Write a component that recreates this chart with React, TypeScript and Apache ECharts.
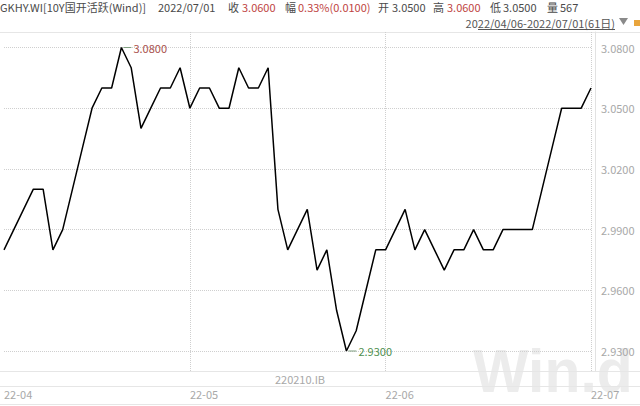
import React, { useEffect, useRef } from "react";
import * as echarts from "echarts";

const dates = [
  "2022-04-06", "2022-04-07", "2022-04-08", "2022-04-11", "2022-04-12", "2022-04-13", "2022-04-14", "2022-04-15",
  "2022-04-18", "2022-04-19", "2022-04-20", "2022-04-21", "2022-04-22", "2022-04-24", "2022-04-25", "2022-04-26",
  "2022-04-27", "2022-04-28", "2022-04-29",
  "2022-05-05", "2022-05-06", "2022-05-07", "2022-05-09", "2022-05-10", "2022-05-11", "2022-05-12", "2022-05-13",
  "2022-05-16", "2022-05-17", "2022-05-18", "2022-05-19", "2022-05-20", "2022-05-23", "2022-05-24", "2022-05-25",
  "2022-05-26", "2022-05-27", "2022-05-30", "2022-05-31",
  "2022-06-01", "2022-06-02", "2022-06-06", "2022-06-07", "2022-06-08", "2022-06-09", "2022-06-10", "2022-06-13",
  "2022-06-14", "2022-06-15", "2022-06-16", "2022-06-17", "2022-06-20", "2022-06-21", "2022-06-22", "2022-06-23",
  "2022-06-24", "2022-06-27", "2022-06-28", "2022-06-29", "2022-06-30",
  "2022-07-01",
];

const closeValues = [
  2.98, 2.99, 3.0, 3.01, 3.01, 2.98, 2.99, 3.01, 3.03, 3.05,
  3.06, 3.06, 3.08, 3.07, 3.04, 3.05, 3.06, 3.06, 3.07,
  3.05, 3.06, 3.06, 3.05, 3.05, 3.07, 3.06, 3.06, 3.07, 3.0,
  2.98, 2.99, 3.0, 2.97, 2.98, 2.95, 2.93, 2.94, 2.96, 2.98,
  2.98, 2.99, 3.0, 2.98, 2.99, 2.98, 2.97, 2.98, 2.98, 2.99,
  2.98, 2.98, 2.99, 2.99, 2.99, 2.99, 3.01, 3.03, 3.05, 3.05, 3.05,
  3.06,
];

const yMin = 2.93;
const yMax = 3.08;
const yStep = 0.03;

const codeTitle = "GKHY.WI[10Y国开活跃(Wind)]";
const quoteDate = "2022/07/01";
const closeText = "3.0600";
const changeText = "0.33%(0.0100)";
const openText = "3.0500";
const highText = "3.0600";
const lowText = "3.0500";
const volumeText = "567";
const rangeText = "2022/04/06-2022/07/01(61日)";
const bondCode = "220210.IB";

const FONT = "'Noto Sans CJK SC', 'Microsoft YaHei', sans-serif";
const GRAY = "#4a4a4a";
const RED = "#c0453f";
const LIGHT = "#a8a8a8";

const monthStarts = dates
  .map((d, i) => (i === 0 || d.slice(0, 7) !== dates[i - 1].slice(0, 7) ? i : -1))
  .filter((i) => i >= 0);

function txt(x: number, y: number, text: string, fill: string, size = 11, align = "left") {
  return {
    type: "text",
    x,
    y,
    style: {
      text,
      fill,
      font: `${size}px ${FONT}`,
      textAlign: align,
      textVerticalAlign: "middle",
    },
  };
}

export default function App() {
  const ref = useRef<HTMLDivElement>(null);
  useEffect(() => {
    if (!ref.current) return;
    const chart = echarts.init(ref.current, null, { renderer: "svg" });
    const option: any = {
      animation: false,
      backgroundColor: "#ffffff",
      grid: [
        { left: 4, right: 49, top: 47.5, bottom: 55 },
        { left: 4, right: 49, top: 32, bottom: 35 },
      ],
      xAxis: [
        {
          gridIndex: 0,
          type: "category",
          data: dates,
          boundaryGap: false,
          axisLine: { show: false },
          axisTick: { show: false },
          axisLabel: { show: false },
          splitLine: { show: false },
        },
        {
          gridIndex: 1,
          type: "category",
          data: dates,
          boundaryGap: false,
          axisLine: { show: false },
          axisTick: { show: false },
          axisLabel: {
            show: true,
            interval: (i: number) => monthStarts.includes(i),
            formatter: (v: string) => v.slice(2, 7),
            align: "left",
            verticalAlign: "top",
            color: LIGHT,
            fontSize: 11,
            fontFamily: FONT,
            margin: 17,
          },
          splitLine: {
            show: true,
            interval: (i: number) => monthStarts.includes(i) && i > 0,
            lineStyle: { color: "#cfcfcf", type: "dotted", width: 1 },
          },
        },
      ],
      yAxis: [
        {
          gridIndex: 0,
          type: "value",
          position: "right",
          min: yMin,
          max: yMax,
          interval: yStep,
          offset: 4,
          axisLine: { show: false },
          axisTick: { show: false },
          axisLabel: {
            formatter: (v: number) => v.toFixed(4),
            color: LIGHT,
            fontSize: 11,
            fontFamily: FONT,
            margin: 6,
          },
          splitLine: { show: true, lineStyle: { color: "#cfcfcf", type: "dotted", width: 1 } },
        },
        {
          gridIndex: 1,
          type: "value",
          position: "right",
          offset: 4,
          axisLine: { show: true, lineStyle: { color: "#e2e2e2", width: 1 } },
          axisTick: { show: false },
          axisLabel: { show: false },
          splitLine: { show: false },
        },
      ],
      series: [
        {
          type: "line",
          xAxisIndex: 0,
          yAxisIndex: 0,
          data: closeValues,
          symbol: "none",
          lineStyle: { color: "#000000", width: 1.5 },
          markPoint: {
            silent: true,
            symbol: "rect",
            symbolSize: [8, 1],
            symbolOffset: [6, 0],
            itemStyle: { color: "#7f9f80" },
            label: {
              show: true,
              position: "right",
              distance: 2,
              fontSize: 11,
              fontFamily: FONT,
              formatter: (p: any) => Number(p.value).toFixed(4),
            },
            data: [
              { type: "max", label: { color: "#a8504c" } },
              { type: "min", label: { color: "#4f8f4f" } },
            ],
          },
        },
      ],
      graphic: [
        {
          type: "text",
          x: 473,
          y: 401,
          z: -10,
          scaleX: 0.95,
          style: {
            text: "Win.d",
            fill: "#ececec",
            font: "bold 62px 'Liberation Sans', Arial, sans-serif",
            textAlign: "left",
            textVerticalAlign: "bottom",
          },
        },
        { type: "line", shape: { x1: 0, y1: 32.5, x2: 640, y2: 32.5 }, style: { stroke: "#e6e6e6", lineWidth: 1 } },
        { type: "line", shape: { x1: 0, y1: 371.5, x2: 640, y2: 371.5 }, style: { stroke: "#e6e6e6", lineWidth: 1 } },
        { type: "line", shape: { x1: 0, y1: 386.5, x2: 640, y2: 386.5 }, style: { stroke: "#e6e6e6", lineWidth: 1 } },
        { type: "line", shape: { x1: 0, y1: 404.5, x2: 640, y2: 404.5 }, style: { stroke: "#e6e6e6", lineWidth: 1 } },
        txt(300, 379, bondCode, LIGHT, 11, "center"),
        txt(0, 7, codeTitle, GRAY),
        txt(158, 7, quoteDate, GRAY),
        txt(228, 7, "收", GRAY),
        txt(242, 7, closeText, RED),
        txt(285, 7, "幅", GRAY),
        txt(298, 7, changeText, RED),
        txt(378, 7, "开", GRAY),
        txt(392, 7, openText, GRAY),
        txt(433, 7, "高", GRAY),
        txt(447, 7, highText, RED),
        txt(490, 7, "低", GRAY),
        txt(503, 7, lowText, GRAY),
        txt(547, 7, "量", GRAY),
        txt(560, 7, volumeText, GRAY),
        txt(615, 23, rangeText, "#555555", 11, "right"),
        { type: "line", shape: { x1: 478, y1: 29.5, x2: 615, y2: 29.5 }, style: { stroke: "#555555", lineWidth: 1 } },
        { type: "polygon", shape: { points: [[619, 18], [628, 18], [623.5, 25]] }, style: { fill: "#8a8a8a" } },
        { type: "rect", shape: { x: 634, y: 20, width: 6, height: 6 }, style: { fill: "#e9a53c" } },
      ],
    };
    chart.setOption(option);
    return () => chart.dispose();
  }, []);
  return (
    <div
      ref={ref}
      style={{ position: "fixed", left: 0, top: 0, width: 640, height: 406, background: "#fff" }}
    />
  );
}
